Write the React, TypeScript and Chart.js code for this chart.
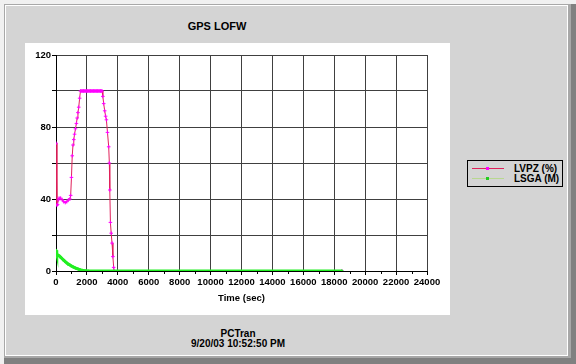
import React, { useEffect, useRef } from "react";
import { Chart, registerables } from "chart.js";

Chart.register(...registerables);

const chartTitle = "GPS LOFW";
const footerLines = ["PCTran", "9/20/03 10:52:50 PM"];
const xAxisTitle = "Time (sec)";
const seriesNames = ["LVPZ (%)", "LSGA (M)"];

const xMin = 0;
const xMax = 24000;
const xStep = 2000;
const yMin = 0;
const yMax = 120;
const yStep = 20;
const yLabelEvery = 40;

const lvpzTime = [
  0, 60, 100, 150, 200, 300, 400, 500, 600, 700, 800, 900, 950, 1000, 1050,
  1100, 1150, 1200, 1260, 1320, 1370, 1420, 1470, 1530, 1580, 1630, 1680,
  1730, 1780, 1830, 1880, 1930, 1980, 2030, 2080, 2130, 2180, 2230, 2280,
  2330, 2380, 2430, 2480, 2530, 2580, 2630, 2680, 2730, 2780, 2830, 2880,
  2930, 2980, 3030, 3085, 3150, 3210, 3260, 3330, 3410, 3450, 3480, 3520,
  3570, 3625, 3680, 3730, 3760, 18500,
];
const lvpzValue = [
  71, 36.5, 37, 39.5, 40.5, 40.5, 39.5, 38.5, 38, 38.5, 39.5, 40, 42, 52, 64,
  70, 73, 76, 79, 82, 85, 88, 91, 96, 100, 100, 100,
  100, 100, 100, 100, 100, 100, 100, 100, 100, 100, 100, 100,
  100, 100, 100, 100, 100, 100, 100, 100, 100, 100, 100, 100,
  100, 100, 97, 93, 89, 86, 84, 77, 69, 60, 45, 27,
  21, 15.5, 8, 2, 0, 0,
];

const lsgaTime = [
  0, 50, 100, 200, 300, 400, 500, 600, 700, 800, 900, 1000, 1100, 1200, 1300,
  1400, 1500, 1600, 1700, 1800, 1900, 2000, 2100, 18500,
];
const lsgaValue = [
  11.5, 9.5, 8.9, 8.5, 7.7, 6.8, 6.0, 5.2, 4.5, 3.8, 3.3, 2.8, 2.3, 1.9, 1.5,
  1.2, 0.9, 0.6, 0.4, 0.25, 0.15, 0.05, 0, 0,
];

const FONT = '"Liberation Sans", Arial, sans-serif';

const minorTicks = {
  id: "minorTicks",
  afterDraw(chart: any) {
    const x = chart.scales.x;
    const ctx = chart.ctx;
    const bottom = chart.chartArea.bottom;
    ctx.save();
    ctx.strokeStyle = "#000";
    ctx.lineWidth = 1;
    ctx.beginPath();
    for (let v = xMin + xStep / 2; v < xMax; v += xStep) {
      const px = Math.round(x.getPixelForValue(v)) + 0.5;
      ctx.moveTo(px, bottom);
      ctx.lineTo(px, bottom + 3);
    }
    ctx.stroke();
    ctx.restore();
  },
};

export default function App() {
  const ref = useRef<HTMLCanvasElement>(null);

  useEffect(() => {
    const lvpz = lvpzTime.map((t, i) => ({ x: t, y: lvpzValue[i] }));
    const lsga = lsgaTime.map((t, i) => ({ x: t, y: lsgaValue[i] }));
    const tickFont = { family: FONT, size: 9.5, weight: "bold" as const };
    const chart = new Chart(ref.current!, {
      type: "line",
      data: {
        datasets: [
          {
            label: seriesNames[0],
            data: lvpz,
            borderColor: "#e0205a",
            borderWidth: 1,
            pointStyle: "cross",
            pointRadius: 1.8,
            pointBorderColor: "#ff00ff",
            pointBorderWidth: 1,
            pointBackgroundColor: "#ff00ff",
            tension: 0,
            order: 1,
          },
          {
            label: seriesNames[1],
            data: lsga,
            borderColor: "#22ee22",
            borderWidth: 3,
            pointStyle: "circle",
            pointRadius: 1.5,
            pointBorderWidth: 0,
            pointBackgroundColor: "#22ee22",
            tension: 0,
            order: 0,
          },
        ],
      },
      plugins: [minorTicks],
      options: {
        animation: false,
        responsive: false,
        maintainAspectRatio: false,
        layout: { padding: { left: 0, right: 23, top: 12, bottom: 0 } },
        plugins: {
          legend: { display: false },
          tooltip: { enabled: false },
          title: { display: false },
        },
        scales: {
          x: {
            type: "linear",
            min: xMin,
            max: xMax,
            ticks: {
              stepSize: xStep,
              color: "#000",
              font: tickFont,
              padding: 2,
              maxRotation: 0,
              autoSkip: false,
              callback: (v: any) => String(v),
            },
            grid: { color: "#404040", tickLength: 4, tickColor: "#000" },
            border: { display: true, color: "#000", width: 1 },
            title: {
              display: true,
              text: xAxisTitle,
              color: "#000",
              font: tickFont,
              padding: { top: 2, bottom: 11 },
            },
            afterFit: (s: any) => {
              s.height = 44;
            },
          },
          y: {
            type: "linear",
            min: yMin,
            max: yMax,
            ticks: {
              stepSize: yStep,
              color: "#000",
              font: tickFont,
              padding: 1,
              callback: (v: any) => (Number(v) % yLabelEvery === 0 ? String(v) : ""),
            },
            grid: { color: "#404040", tickLength: 4, tickColor: "#000" },
            border: { display: true, color: "#000", width: 1 },
            afterFit: (s: any) => {
              s.width = 31;
            },
          },
        },
      },
    });
    return () => chart.destroy();
  }, []);

  const abs = (l: number, t: number, w: number, h: number, bg: string): React.CSSProperties => ({
    position: "absolute",
    left: l,
    top: t,
    width: w,
    height: h,
    background: bg,
  });

  const legendRow = (top: number, lineColor: string, markColor: string, text: string) => (
    <div style={{ position: "absolute", left: 0, top, width: 94, height: 11 }}>
      <div style={{ position: "absolute", left: 4, top: 5, width: 32, height: 1, background: lineColor }} />
      <div style={{ position: "absolute", left: 18, top: 4, width: 3, height: 3, background: markColor }} />
      <div
        style={{
          position: "absolute",
          left: 46,
          top: 0,
          fontSize: 10,
          lineHeight: "11px",
          fontWeight: "bold",
          whiteSpace: "nowrap",
          color: "#000",
        }}
      >
        {text}
      </div>
    </div>
  );

  return (
    <div
      style={{
        position: "absolute",
        left: 0,
        top: 0,
        width: 576,
        height: 364,
        overflow: "hidden",
        background: "#f0f0f0",
        fontFamily: FONT,
      }}
    >
      <div style={abs(4, 4, 572, 360, "#808080")} />
      <div style={abs(4, 4, 567, 354, "#a8a8a8")} />
      <div style={abs(5, 5, 563, 351, "#ffffff")} />
      <div style={abs(6, 6, 561, 349, "#d4d4d4")} />
      <div
        style={{
          position: "absolute",
          left: 0,
          top: 19,
          width: 434,
          textAlign: "center",
          fontSize: 11,
          lineHeight: "14px",
          fontWeight: "bold",
          color: "#000",
        }}
      >
        {chartTitle}
      </div>
      <div style={{ position: "absolute", left: 25, top: 43, width: 425, height: 272, background: "#fff" }}>
        <canvas ref={ref} width={425} height={272} style={{ display: "block", width: 425, height: 272 }} />
      </div>
      <div
        style={{
          position: "absolute",
          left: 467,
          top: 160,
          width: 94,
          height: 25,
          border: "1px solid #000",
        }}
      >
        {legendRow(2, "#e0205a", "#ff00ff", seriesNames[0])}
        {legendRow(12, "#b8d890", "#22cc22", seriesNames[1])}
      </div>
      <div
        style={{
          position: "absolute",
          left: 138,
          top: 329,
          width: 200,
          textAlign: "center",
          fontSize: 10,
          lineHeight: "10px",
          fontWeight: "bold",
          color: "#000",
        }}
      >
        <div>{footerLines[0]}</div>
        <div>{footerLines[1]}</div>
      </div>
    </div>
  );
}
